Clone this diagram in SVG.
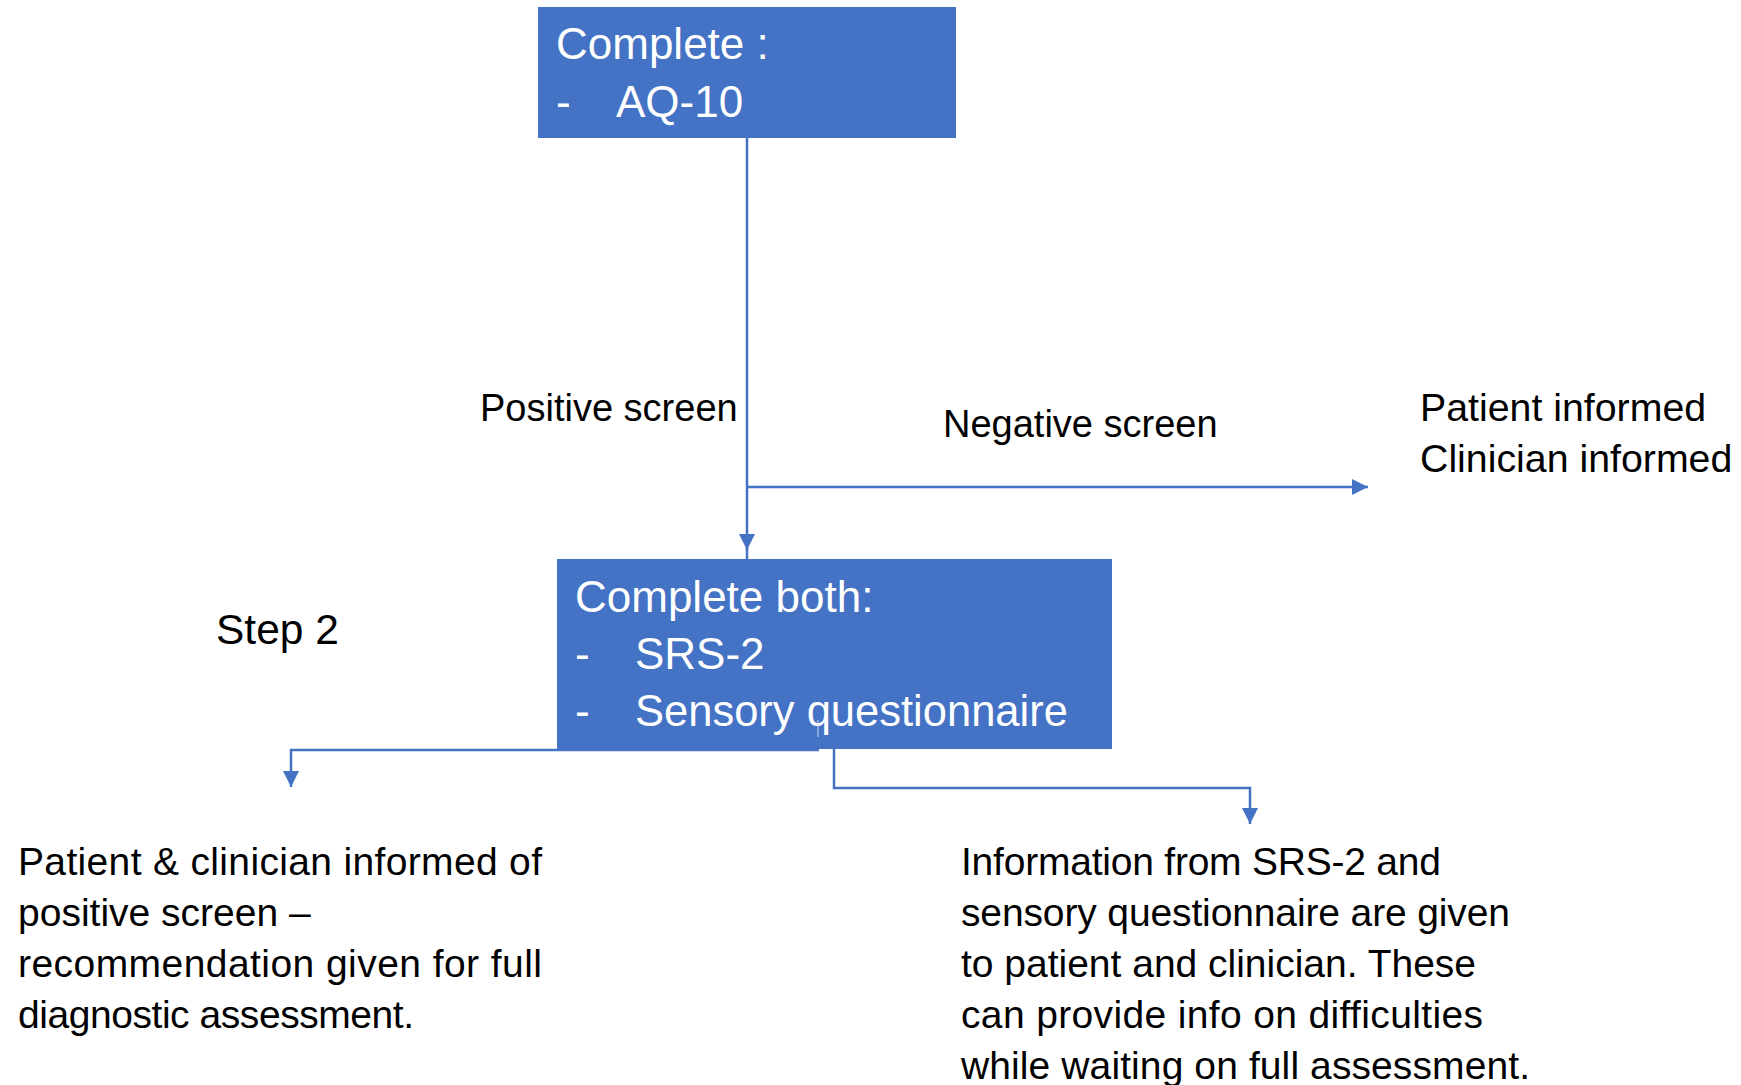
<svg xmlns="http://www.w3.org/2000/svg" width="1741" height="1085" viewBox="0 0 1741 1085">
  <style>
    .box { fill: #4472C4; }
    .bt { font-family: "Liberation Sans", Arial, sans-serif; font-size: 44px; fill: #FFFFFF; }
    .lbl { font-family: "Liberation Sans", Arial, sans-serif; font-size: 38px; fill: #000000; }
    .para { font-family: "Liberation Sans", Arial, sans-serif; font-size: 39px; fill: #000000; }
    .con { fill: none; stroke: #4472C4; stroke-width: 2.5; }
  </style>
  <defs>
    <marker id="arrow" viewBox="0 0 16 16" markerWidth="16" markerHeight="16" refX="16" refY="8" orient="auto" markerUnits="userSpaceOnUse">
      <path d="M0,0 L16,8 L0,16 z" fill="#4472C4"/>
    </marker>
  </defs>
  <rect width="1741" height="1085" fill="#FFFFFF"/>

  <g id="connectors">
    <path class="con" d="M747,138 V550" marker-end="url(#arrow)"/>
    <path class="con" d="M747,548 V559"/>
    <path class="con" d="M747,487 H1368" marker-end="url(#arrow)"/>
    <path class="con" d="M819,750 H291 V787" marker-end="url(#arrow)"/>
    <path class="con" d="M834,749 V788 H1250 V824" marker-end="url(#arrow)"/>
  </g>

  <g id="node-aq10">
    <rect class="box" x="538" y="7" width="418" height="131"/>
    <text class="bt" x="556" y="59">Complete :</text>
    <text class="bt" x="556" y="117">-</text>
    <text class="bt" x="616" y="117">AQ-10</text>
  </g>

  <g id="node-step2">
    <rect class="box" x="557" y="559" width="555" height="190"/>
    <text class="bt" x="575" y="612">Complete both:</text>
    <text class="bt" x="575" y="669">-</text>
    <text class="bt" x="635" y="669">SRS-2</text>
    <text class="bt" x="575" y="726">-</text>
    <text class="bt" x="635" y="726" style="font-size:43.5px">Sensory questionnaire</text>
    <line x1="818" y1="720" x2="818" y2="737" stroke="#C9D6EE" stroke-width="1"/>
  </g>

  <g id="label-positive">
    <text class="lbl" x="480" y="421">Positive screen</text>
  </g>
  <g id="label-negative">
    <text class="lbl" x="943" y="437">Negative screen</text>
  </g>
  <g id="node-informed">
    <text class="lbl" x="1420" y="421" style="font-size:39.3px">Patient informed</text>
    <text class="lbl" x="1420" y="472" style="font-size:39.3px">Clinician informed</text>
  </g>
  <g id="label-step2">
    <text class="lbl" x="216" y="644" style="font-size:42.5px">Step 2</text>
  </g>

  <g id="node-positive-outcome">
    <text class="para" x="18" y="875" textLength="524" lengthAdjust="spacing">Patient &amp; clinician informed of</text>
    <text class="para" x="18" y="926">positive screen –</text>
    <text class="para" x="18" y="977" textLength="524" lengthAdjust="spacing">recommendation given for full</text>
    <text class="para" x="18" y="1028" textLength="396" lengthAdjust="spacing">diagnostic assessment.</text>
  </g>

  <g id="node-information">
    <text class="para" x="961" y="875" textLength="480" lengthAdjust="spacing">Information from SRS-2 and</text>
    <text class="para" x="961" y="926" textLength="549" lengthAdjust="spacing">sensory questionnaire are given</text>
    <text class="para" x="961" y="977" textLength="515" lengthAdjust="spacing">to patient and clinician. These</text>
    <text class="para" x="961" y="1028" textLength="522" lengthAdjust="spacing">can provide info on difficulties</text>
    <text class="para" x="961" y="1079" textLength="569" lengthAdjust="spacing">while waiting on full assessment.</text>
  </g>
</svg>
